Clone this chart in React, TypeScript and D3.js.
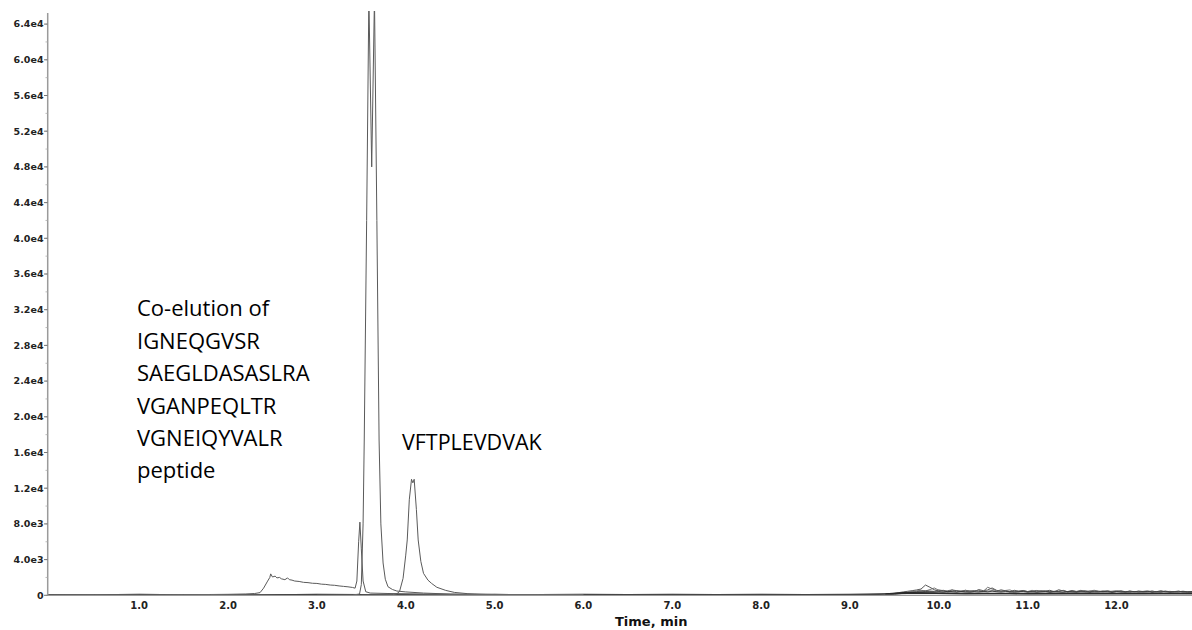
import React, { useEffect, useRef } from 'react';
import * as d3 from 'd3';

const W = 1192;
const H = 630;

// y axis ticks (intensity, cps)
const yTicks = [0, 4000, 8000, 12000, 16000, 20000, 24000, 28000, 32000, 36000, 40000, 44000, 48000, 52000, 56000, 60000, 64000];
const yTickLabels = ['0', '4.0e3', '8.0e3', '1.2e4', '1.6e4', '2.0e4', '2.4e4', '2.8e4', '3.2e4', '3.6e4', '4.0e4', '4.4e4', '4.8e4', '5.2e4', '5.6e4', '6.0e4', '6.4e4'];

// x axis ticks (time, min)
const xTicks = [1, 2, 3, 4, 5, 6, 7, 8, 9, 10, 11, 12];
const xTickLabels = ['1.0', '2.0', '3.0', '4.0', '5.0', '6.0', '7.0', '8.0', '9.0', '10.0', '11.0', '12.0'];

// co-elution hump + small peak at 3.48 min
const coElutionTrace: [number, number][] = [
  [-0.03, 40], [0.5, 60], [1.0, 30], [1.5, 70], [1.8, 90], [2.0, 110], [2.2, 150], [2.3, 200],
  [2.36, 300], [2.40, 800], [2.44, 1500], [2.47, 2000], [2.48, 2400], [2.50, 2050], [2.53, 2150],
  [2.55, 1950], [2.58, 2000], [2.60, 1850], [2.64, 1750], [2.67, 1950], [2.69, 1750], [2.72, 1700],
  [2.75, 1600], [2.80, 1550], [2.85, 1450], [2.90, 1420], [2.95, 1350], [3.00, 1330], [3.05, 1250],
  [3.10, 1220], [3.15, 1150], [3.20, 1120], [3.25, 1050], [3.30, 1000], [3.35, 950], [3.40, 880],
  [3.43, 800], [3.45, 1600], [3.47, 6000], [3.484, 8200], [3.50, 5200], [3.52, 1600], [3.55, 400],
  [3.60, 250], [3.8, 200], [4.2, 150], [5.0, 80], [6.0, 60]
];

// main doublet (off scale)
const doubletTrace: [number, number][] = [
  [3.0, 0], [3.40, 20], [3.48, 150], [3.50, 1200], [3.52, 8000], [3.533, 17400], [3.56, 42000],
  [3.585, 67000], [3.617, 48000], [3.648, 67000], [3.675, 42000], [3.70, 17400], [3.72, 8000],
  [3.745, 3620], [3.77, 1800], [3.80, 960], [3.85, 650], [3.90, 480], [4.0, 380], [4.2, 250],
  [4.5, 140], [5.0, 60], [6.0, 30]
];

// VFTPLEVDVAK peak
const vftTrace: [number, number][] = [
  [3.5, 0], [3.85, 60], [3.90, 180], [3.93, 420], [3.97, 1900], [4.00, 4500], [4.017, 6200],
  [4.04, 10700], [4.065, 13000], [4.08, 12600], [4.095, 13000], [4.12, 9600], [4.14, 6200],
  [4.17, 3800], [4.20, 2460], [4.25, 1700], [4.29, 1340], [4.35, 900], [4.45, 550], [4.55, 320],
  [4.70, 180], [5.0, 80], [5.5, 40]
];

// flat baselines over the full run
const baseTraceA: [number, number][] = [
  [-0.03, 80], [0.5, 40], [1.0, 90], [1.5, 50], [2.0, 70], [2.5, 40], [3.0, 90], [3.5, 60],
  [4.0, 80], [4.5, 50], [5.0, 90], [5.5, 60], [6.0, 100], [6.5, 70], [7.0, 90], [7.5, 60],
  [8.0, 100], [8.5, 80], [9.0, 110], [9.4, 150], [9.6, 300], [10.0, 250], [10.5, 220],
  [11.0, 200], [11.5, 230], [12.0, 210], [12.5, 220], [12.85, 200]
];
const baseTraceB: [number, number][] = [
  [-0.03, 20], [0.7, 50], [1.2, 10], [1.7, 40], [2.2, 20], [2.7, 60], [3.2, 30], [3.7, 70],
  [4.2, 40], [4.7, 80], [5.2, 30], [5.7, 60], [6.2, 40], [6.7, 70], [7.2, 30], [7.7, 60],
  [8.2, 40], [8.7, 70], [9.2, 60], [9.5, 180], [9.8, 260], [10.3, 160], [10.8, 180],
  [11.3, 150], [11.8, 170], [12.3, 160], [12.85, 180]
];

// noisy late-eluting region
const noiseTimes = [9.4, 9.45, 9.5, 9.55, 9.6, 9.65, 9.7, 9.75, 9.8, 9.85, 9.9, 9.95, 10.0, 10.05, 10.1, 10.15, 10.2, 10.25, 10.3, 10.35, 10.4, 10.45, 10.5, 10.55, 10.6, 10.65, 10.7, 10.75, 10.8, 10.85, 10.9, 10.95, 11.0, 11.05, 11.1, 11.15, 11.2, 11.25, 11.3, 11.35, 11.4, 11.45, 11.5, 11.55, 11.6, 11.65, 11.7, 11.75, 11.8, 11.85, 11.9, 11.95, 12.0, 12.05, 12.1, 12.15, 12.2, 12.25, 12.3, 12.35, 12.4, 12.45, 12.5, 12.55, 12.6, 12.65, 12.7, 12.75, 12.8, 12.85];
const noiseA = [120, 160, 220, 300, 380, 450, 520, 600, 700, 1150, 900, 620, 480, 560, 420, 600, 520, 440, 560, 480, 420, 640, 520, 600, 820, 560, 460, 520, 400, 560, 440, 500, 380, 460, 540, 420, 480, 560, 400, 620, 480, 420, 540, 400, 460, 520, 380, 500, 440, 400, 520, 380, 440, 500, 400, 460, 380, 480, 420, 360, 460, 400, 520, 380, 440, 400, 460, 360, 420, 380];
const noiseB = [80, 120, 160, 240, 300, 380, 420, 500, 560, 480, 640, 820, 560, 440, 520, 600, 380, 480, 560, 420, 500, 560, 440, 900, 700, 520, 460, 540, 600, 420, 380, 500, 420, 560, 380, 460, 500, 380, 460, 420, 560, 380, 500, 440, 560, 400, 500, 560, 460, 380, 420, 460, 520, 400, 360, 480, 400, 440, 360, 420, 480, 380, 420, 460, 360, 420, 460, 380, 420, 360];
const noiseC = [60, 100, 140, 200, 260, 320, 360, 420, 460, 520, 480, 440, 600, 520, 380, 440, 520, 440, 400, 480, 520, 440, 400, 460, 520, 440, 620, 500, 380, 460, 480, 540, 420, 380, 460, 520, 440, 380, 420, 460, 520, 380, 440, 400, 500, 420, 440, 380, 420, 500, 440, 380, 420, 460, 380, 440, 420, 380, 440, 500, 360, 420, 380, 460, 420, 380, 400, 460, 380, 420];
const noiseD = [40, 80, 120, 160, 220, 260, 300, 340, 380, 420, 400, 380, 420, 360, 440, 400, 360, 420, 380, 340, 400, 360, 420, 380, 460, 400, 360, 420, 380, 340, 400, 420, 360, 400, 340, 380, 420, 360, 400, 380, 340, 420, 380, 360, 400, 380, 340, 400, 360, 420, 380, 340, 400, 360, 380, 340, 400, 360, 380, 420, 340, 380, 360, 400, 340, 380, 360, 400, 340, 380];

const annotationLines = ['Co-elution of', 'IGNEQGVSR', 'SAEGLDASASLRA', 'VGANPEQLTR', 'VGNEIQYVALR', 'peptide'];
const annotationAnchor: [number, number] = [0.975, 31250];
const peakLabel = 'VFTPLEVDVAK';
const peakLabelAnchor: [number, number] = [3.957, 16250];

const Chromatogram = () => {
  const svgRef = useRef<SVGSVGElement>(null);

  useEffect(() => {
    const svg = d3.select(svgRef.current);
    svg.selectAll('*').remove();

    const x = d3.scaleLinear().domain([-0.03, 12.85]).range([47.7, 1192]);
    const y = d3.scaleLinear().domain([0, 4000]).range([595.3, 559.6]);
    const yTop = 13;

    svg.append('defs').append('clipPath').attr('id', 'plot-clip')
      .append('rect').attr('x', 47.7).attr('y', 11).attr('width', W - 47.7).attr('height', 590);

    const line = d3.line<[number, number]>()
      .x(d => x(d[0]))
      .y(d => y(d[1]));

    const plot = svg.append('g').attr('clip-path', 'url(#plot-clip)');

    // x axis line
    svg.append('line')
      .attr('x1', 47.7).attr('x2', W)
      .attr('y1', y(0)).attr('y2', y(0))
      .attr('stroke', '#9a9a9a').attr('stroke-width', 1.2);

    const noiseSeries = [noiseA, noiseB, noiseC, noiseD].map(vals =>
      noiseTimes.map((t, i) => [t, vals[i]] as [number, number]));

    noiseSeries.forEach((s, i) => {
      plot.append('path').datum(s)
        .attr('d', line)
        .attr('fill', 'none')
        .attr('stroke', ['#444', '#666', '#555', '#333'][i])
        .attr('stroke-width', 0.9);
    });

    [baseTraceA, baseTraceB].forEach(s => {
      plot.append('path').datum(s)
        .attr('d', line)
        .attr('fill', 'none')
        .attr('stroke', '#2a2a2a')
        .attr('stroke-width', 1.3);
    });

    [coElutionTrace, doubletTrace, vftTrace].forEach(s => {
      plot.append('path').datum(s)
        .attr('d', line)
        .attr('fill', 'none')
        .attr('stroke', '#5a5a5a')
        .attr('stroke-width', 1);
    });

    // y axis
    svg.append('line')
      .attr('x1', 47.7).attr('x2', 47.7)
      .attr('y1', yTop).attr('y2', y(0) + 0.5)
      .attr('stroke', '#9a9a9a').attr('stroke-width', 1.5);

    const minor = d3.range(0, 65001, 2000);
    svg.append('g').selectAll('line.minor').data(minor).enter().append('line')
      .attr('x1', 45.5).attr('x2', 47.7)
      .attr('y1', d => y(d)).attr('y2', d => y(d))
      .attr('stroke', '#aaa').attr('stroke-width', 0.8);

    const yg = svg.append('g');
    yg.selectAll('line.major').data(yTicks).enter().append('line')
      .attr('x1', 44).attr('x2', 47.7)
      .attr('y1', d => y(d)).attr('y2', d => y(d))
      .attr('stroke', '#777').attr('stroke-width', 1);
    yg.selectAll('text').data(yTicks).enter().append('text')
      .attr('x', 43.5)
      .attr('y', d => y(d))
      .attr('dy', '0.35em')
      .attr('text-anchor', 'end')
      .style('font-family', 'DejaVu Sans, Verdana, sans-serif')
      .style('font-weight', 'bold')
      .style('font-size', '9.5px')
      .style('fill', '#222')
      .text((d, i) => yTickLabels[i]);

    svg.append('g').selectAll('text').data(xTicks).enter().append('text')
      .attr('x', d => x(d))
      .attr('y', 609)
      .attr('text-anchor', 'middle')
      .style('font-family', 'DejaVu Sans, Verdana, sans-serif')
      .style('font-weight', 'bold')
      .style('font-size', '10px')
      .style('fill', '#222')
      .text((d, i) => xTickLabels[i]);

    svg.append('text')
      .attr('x', 615)
      .attr('y', 626)
      .style('font-family', 'DejaVu Sans, Verdana, sans-serif')
      .style('font-weight', 'bold')
      .style('font-size', '13px')
      .style('fill', '#111')
      .text('Time, min');

    // annotations
    const ann = svg.append('text')
      .attr('x', x(annotationAnchor[0]))
      .attr('y', y(annotationAnchor[1]))
      .style('font-family', 'Open Sans, sans-serif')
      .style('font-size', '22px')
      .style('fill', '#000');
    ann.selectAll('tspan').data(annotationLines).enter().append('tspan')
      .attr('x', x(annotationAnchor[0]))
      .attr('dy', (d, i) => (i === 0 ? 0 : 32.4))
      .text(d => d);

    svg.append('text')
      .attr('x', x(peakLabelAnchor[0]))
      .attr('y', y(peakLabelAnchor[1]))
      .style('font-family', 'Open Sans, sans-serif')
      .style('font-size', '21.5px')
      .style('fill', '#000')
      .text(peakLabel);
  }, []);

  return <svg ref={svgRef} width={W} height={H} style={{ display: 'block', background: '#fff' }} />;
};

export default function App() {
  return (
    <div style={{ position: 'absolute', left: 0, top: 0, width: W, height: H, background: '#fff' }}>
      <Chromatogram />
    </div>
  );
}
